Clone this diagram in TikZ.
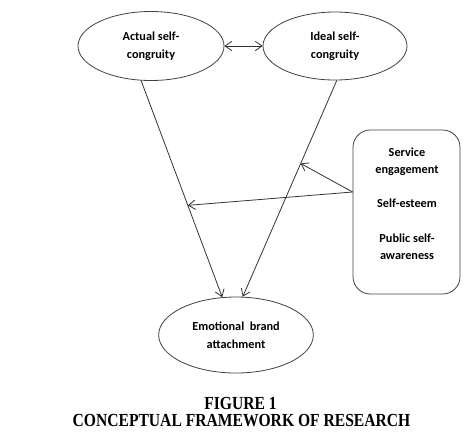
\documentclass[tikz,border=0pt]{standalone}
\usepackage{fontspec}
\usepackage{graphicx}
\setmainfont{Carlito}
\newfontfamily\capfont{Liberation Serif}
\usetikzlibrary{shapes.geometric,arrows.meta}

\begin{document}
\begin{tikzpicture}[x=0.75pt,y=-0.75pt,
  construct/.style={ellipse,draw=black!75,line width=0.6pt,align=center,inner sep=0pt,
    font=\bfseries\fontsize{9.2}{13.5}\selectfont},
  txt/.style={align=center,inner sep=0pt,font=\bfseries\fontsize{9.2}{13}\selectfont},
  link/.style={draw=black!80,line width=0.6pt},
  barb/.tip={Straight Barb[length=5pt,width=7pt]},
  arr/.style={link,-barb}]

\useasboundingbox (0,0) rectangle (474,437);

\node[construct,minimum width=109.5pt,minimum height=51.75pt] (actual) at (151,46) {Actual self-\\congruity};
\node[construct,minimum width=108pt,minimum height=51pt] (ideal) at (335,46) {Ideal self-\\congruity};
\node[construct,minimum width=116pt,minimum height=57pt] (emotional) at (236,335) {Emotional\ \ brand\\attachment};

\node[draw=black!75,line width=0.6pt,rounded corners=13pt,minimum width=80.25pt,minimum height=123pt] (moderators) at (406.5,212) {};
\node[txt] (service) at (407,162) {Service\\engagement};
\node[txt] (esteem) at (407,203) {Self-esteem};
\node[txt] (public) at (407,247) {Public self-\\awareness};

\draw[link,barb-barb] (actual) -- (ideal);

\draw[arr] (actual.254) -- coordinate[pos=0.576] (hitA) (emotional.110);
\draw[arr] (ideal.273) -- coordinate[pos=0.384] (hitI) (emotional.80);

\coordinate (src) at ([yshift=15pt]moderators.west);
\draw[arr] (src) -- (hitI);
\draw[arr] (src) -- (hitA);

\node[font=\capfont\bfseries\fontsize{11.7}{13.5}\selectfont] (figno) at (240.5,403) {\scalebox{1}[1.18]{FIGURE 1}};
\node[font=\capfont\bfseries\fontsize{11.7}{13.5}\selectfont] (figtitle) at (241.5,421) {\scalebox{1}[1.18]{CONCEPTUAL FRAMEWORK OF RESEARCH}};
\end{tikzpicture}
\end{document}
